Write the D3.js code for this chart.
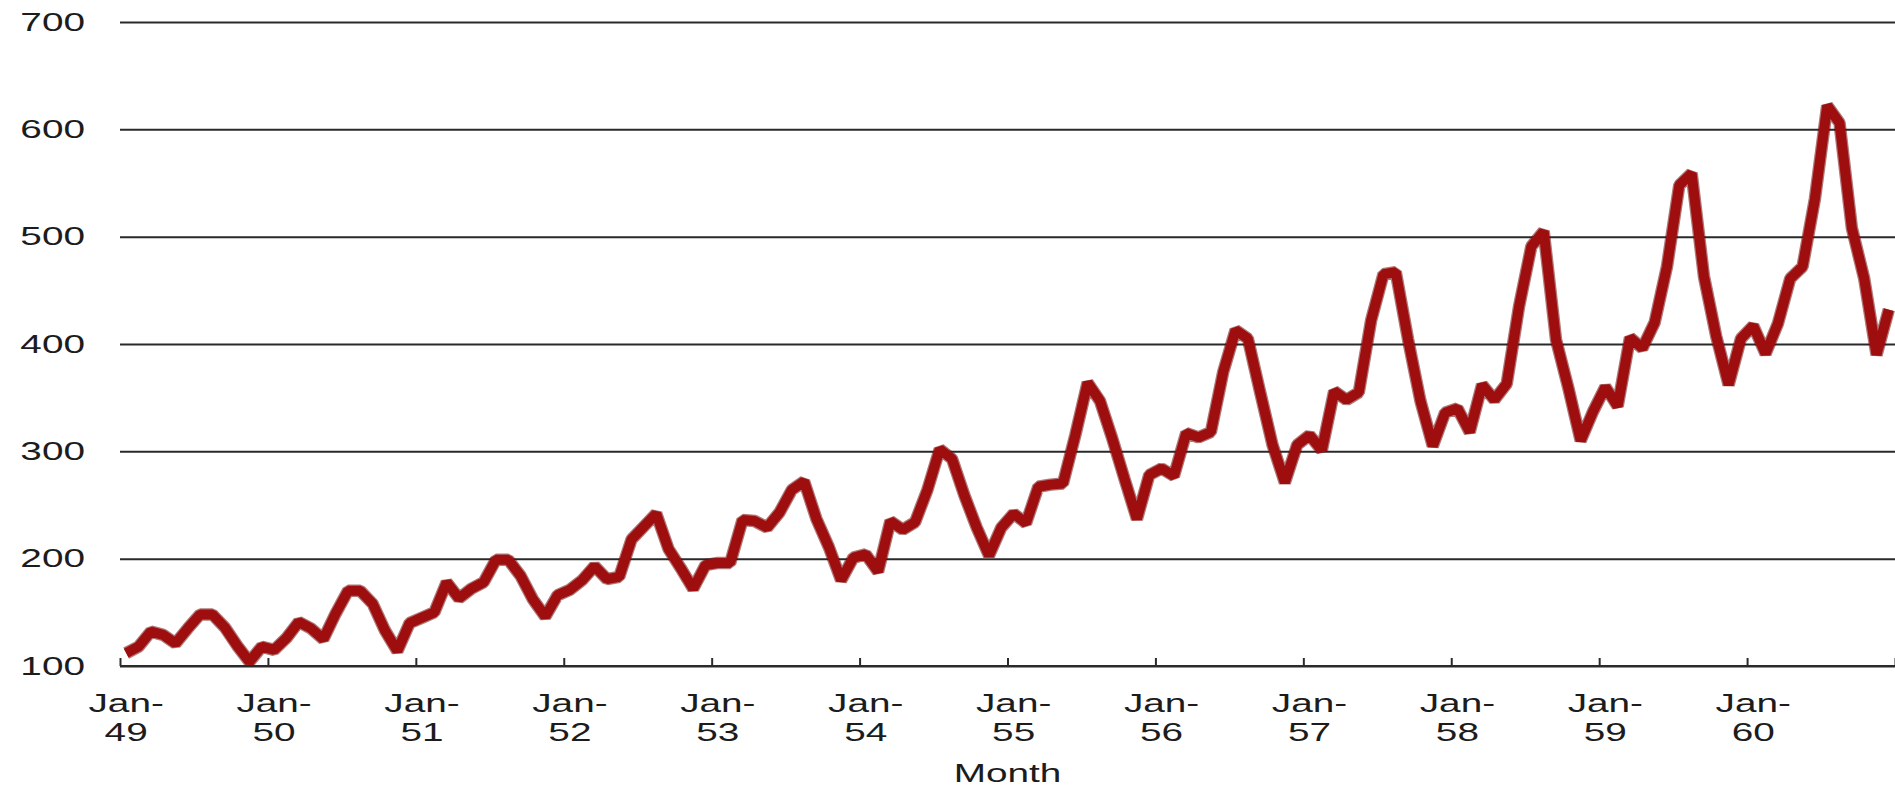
<!DOCTYPE html>
<html>
<head>
<meta charset="utf-8">
<script src="https://cdn.jsdelivr.net/npm/d3@7"></script>
<style>
  body { margin: 0; background: #fff; }
  text { font-family: "Liberation Sans", Arial, sans-serif; fill: #1c1c1c; }
</style>
</head>
<body>
<div id="chart"></div>
<script>
// years shown on the x axis (Jan of each)
const years = ["49", "50", "51", "52", "53", "54", "55", "56", "57", "58", "59", "60"];

// monthly values, Jan-49 .. Dec-60
const passengers = [
  112, 118, 132, 129, 121, 135, 148, 148, 136, 119, 104, 118,
  115, 126, 141, 135, 125, 149, 170, 170, 158, 133, 114, 140,
  145, 150, 178, 163, 172, 178, 199, 199, 184, 162, 146, 166,
  171, 180, 193, 181, 183, 218, 230, 242, 209, 191, 172, 194,
  196, 196, 236, 235, 229, 243, 264, 272, 237, 211, 180, 201,
  204, 188, 235, 227, 234, 264, 302, 293, 259, 229, 203, 229,
  242, 233, 267, 269, 270, 315, 364, 347, 312, 274, 237, 278,
  284, 277, 317, 313, 318, 374, 413, 405, 355, 306, 271, 306,
  315, 301, 356, 348, 355, 422, 465, 467, 404, 347, 305, 336,
  340, 318, 362, 348, 363, 435, 491, 505, 404, 359, 310, 337,
  360, 342, 406, 396, 420, 472, 548, 559, 463, 407, 362, 405,
  417, 391, 419, 461, 472, 535, 622, 606, 508, 461, 390, 432
];

const yTicks = [100, 200, 300, 400, 500, 600, 700];

const width = 1895, height = 786;
const plotLeft = 120, plotRight = 1895, plotTop = 22, plotBottom = 666;
const stretch = 1.55; // the picture is wide-stretched, text included

const svg = d3.select("#chart").append("svg")
    .attr("width", width).attr("height", height);

// x: one slot per month, point sits in the middle of its slot
const scaleX = d3.scaleLinear()
    .domain([0, passengers.length])
    .range([plotLeft, plotRight]);

const scaleY = d3.scaleLinear()
    .domain([100, 700])
    .range([plotBottom, plotTop]);

// y axis + gridlines
const yAxis = svg.append("g")
    .attr("transform", `translate(${plotLeft},0)`)
    .call(d3.axisLeft(scaleY).tickValues(yTicks)
        .tickSize(-(plotRight - plotLeft)));
yAxis.select(".domain").remove();
yAxis.selectAll(".tick line").attr("stroke", "#2a2a2a").attr("stroke-width", 2);
yAxis.selectAll(".tick text")
    .style("font-size", "25px").attr("fill", "#1c1c1c")
    .attr("x", 0)
    .attr("transform", `translate(-35,0) scale(${stretch},1)`);

// x axis: ticks on year boundaries, pointing up
const boundaries = d3.range(0, passengers.length + 1, 12);
const xAxis = svg.append("g")
    .attr("transform", `translate(0,${plotBottom})`)
    .call(d3.axisBottom(scaleX).tickValues(boundaries)
        .tickSize(-8).tickFormat(""));
xAxis.select(".domain").attr("stroke", "#2a2a2a").attr("stroke-width", 2)
    .attr("d", `M${plotLeft},0H${plotRight}`);
xAxis.selectAll(".tick line").attr("stroke", "#2a2a2a").attr("stroke-width", 2);

// x labels, two lines, under the Jan point of each year
const labels = svg.append("g");
years.forEach((yr, k) => {
    const cx = scaleX(k * 12 + 0.5);
    const t = labels.append("text")
        .attr("text-anchor", "middle")
        .attr("transform", `translate(${cx},0) scale(${stretch},1)`)
        .style("font-size", "25px");
    t.append("tspan").attr("x", 0).attr("y", 712).text("Jan-");
    t.append("tspan").attr("x", 0).attr("y", 741).text(yr);
});

svg.append("text")
    .attr("text-anchor", "middle")
    .attr("transform", `translate(${(plotLeft + plotRight) / 2},782) scale(${stretch},1)`)
    .style("font-size", "25px")
    .text("Month");

// the series
const line = d3.line()
    .x((d, i) => scaleX(i + 0.5))
    .y(d => scaleY(d));

svg.append("path")
    .datum(passengers)
    .attr("d", line)
    .attr("fill", "none")
    .attr("stroke", "#6e0707")
    .attr("stroke-width", 12.5)
    .attr("stroke-linejoin", "bevel")
    .attr("opacity", 0.55);

svg.append("path")
    .datum(passengers)
    .attr("d", line)
    .attr("fill", "none")
    .attr("stroke", "#9e0e0e")
    .attr("stroke-width", 10)
    .attr("stroke-linejoin", "bevel");
</script>
</body>
</html>
